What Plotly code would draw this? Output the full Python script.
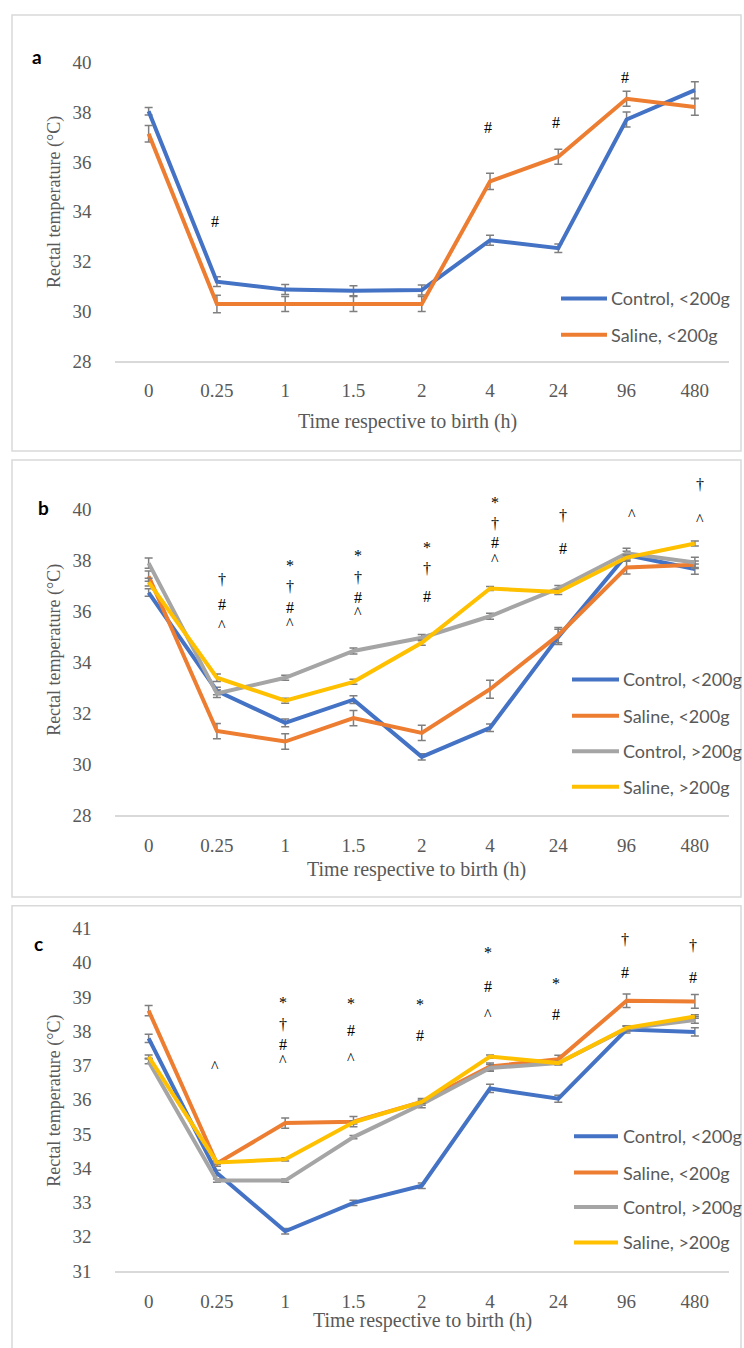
import plotly.graph_objects as go

W, H = 744, 1348

times = ["0", "0.25", "1", "1.5", "2", "4", "24", "96", "480"]

# ---- Panel a ----
a_ctrl_lt = [38.03, 31.2, 30.88, 30.83, 30.86, 32.86, 32.54, 37.7, 38.88]
a_ctrl_lt_err = [0.15, 0.2, 0.2, 0.2, 0.2, 0.2, 0.17, 0.3, 0.33]
a_sal_lt = [37.13, 30.3, 30.3, 30.3, 30.3, 35.22, 36.21, 38.53, 38.2]
a_sal_lt_err = [0.33, 0.35, 0.3, 0.3, 0.3, 0.33, 0.3, 0.3, 0.33]

# ---- Panel b ----
b_ctrl_lt = [36.73, 32.87, 31.62, 32.53, 30.29, 31.43, 34.99, 38.2, 37.65]
b_ctrl_lt_err = [0.15, 0.15, 0.15, 0.15, 0.12, 0.15, 0.3, 0.15, 0.2]
b_sal_lt = [37.37, 31.3, 30.89, 31.81, 31.23, 32.94, 35.06, 37.71, 37.82]
b_sal_lt_err = [0.2, 0.3, 0.3, 0.3, 0.3, 0.35, 0.3, 0.25, 0.15]
b_ctrl_gt = [37.88, 32.77, 33.39, 34.44, 34.96, 35.8, 36.89, 38.27, 37.91]
b_ctrl_gt_err = [0.2, 0.15, 0.1, 0.12, 0.12, 0.12, 0.12, 0.2, 0.2]
b_sal_gt = [37.14, 33.39, 32.49, 33.23, 34.76, 36.89, 36.75, 38.1, 38.65]
b_sal_gt_err = [0.15, 0.15, 0.1, 0.1, 0.1, 0.08, 0.1, 0.1, 0.1]

# ---- Panel c ----
c_ctrl_lt = [37.79, 33.86, 32.16, 32.99, 33.49, 36.33, 36.03, 38.05, 37.98]
c_ctrl_lt_err = [0.12, 0.08, 0.08, 0.08, 0.08, 0.12, 0.1, 0.1, 0.12]
c_sal_lt = [38.6, 34.14, 35.32, 35.36, 35.94, 36.97, 37.18, 38.89, 38.87]
c_sal_lt_err = [0.15, 0.08, 0.15, 0.15, 0.1, 0.1, 0.12, 0.2, 0.2]
c_ctrl_gt = [37.12, 33.64, 33.64, 34.91, 35.87, 36.93, 37.07, 38.08, 38.33]
c_ctrl_gt_err = [0.07, 0.05, 0.05, 0.05, 0.1, 0.1, 0.05, 0.07, 0.1]
c_sal_gt = [37.26, 34.17, 34.26, 35.34, 35.94, 37.26, 37.07, 38.1, 38.43]
c_sal_gt_err = [0.05, 0.05, 0.05, 0.05, 0.05, 0.05, 0.05, 0.05, 0.05]

series_names = ["Control, <200g", "Saline, <200g", "Control, >200g", "Saline, >200g"]
series_colors = ["#4472C4", "#ED7D31", "#A5A5A5", "#FFC000"]

# significance markers: (time, symbol, y value)
a_marks = [("0.25", "#", 33.6), ("4", "#", 37.4), ("24", "#", 37.6), ("96", "#", 39.4)]
b_marks = [
    ("0.25", "†", 37.26), ("0.25", "#", 36.26), ("0.25", "^", 35.45),
    ("1", "*", 37.8), ("1", "†", 36.95), ("1", "#", 36.14), ("1", "^", 35.52),
    ("1.5", "*", 38.19), ("1.5", "†", 37.3), ("1.5", "#", 36.53), ("1.5", "^", 35.95),
    ("2", "*", 38.5), ("2", "†", 37.69), ("2", "#", 36.57),
    ("4", "*", 40.27), ("4", "†", 39.42), ("4", "#", 38.69), ("4", "^", 38.03),
    ("24", "†", 39.73), ("24", "#", 38.46),
    ("96", "^", 39.77),
    ("480", "†", 40.96), ("480", "^", 39.58),
]
c_marks = [
    ("0.25", "^", 36.97),
    ("1", "*", 38.84), ("1", "†", 38.19), ("1", "#", 37.6), ("1", "^", 37.14),
    ("1.5", "*", 38.81), ("1.5", "#", 38.03), ("1.5", "^", 37.2),
    ("2", "*", 38.79), ("2", "#", 37.88),
    ("4", "*", 40.31), ("4", "#", 39.32), ("4", "^", 38.49),
    ("24", "*", 39.39), ("24", "#", 38.48),
    ("96", "†", 40.68), ("96", "#", 39.71),
    ("480", "†", 40.5), ("480", "#", 39.56),
]

panels = [
    dict(label="a", series=[(a_ctrl_lt, a_ctrl_lt_err), (a_sal_lt, a_sal_lt_err)],
         yr=[28, 40], dtick=2, marks=a_marks, mshift=-2, standoff=11,
         plot_px=(53, 357), box_px=(5, 448), lab_px=(37, 47),
         ytitle_py=195, xtitle_px=(408, 418),
         leg_x=(561, 607, 609), leg_y=[293, 330]),
    dict(label="b", series=[(b_ctrl_lt, b_ctrl_lt_err), (b_sal_lt, b_sal_lt_err),
                            (b_ctrl_gt, b_ctrl_gt_err), (b_sal_gt, b_sal_gt_err)],
         yr=[28, 40], dtick=2, marks=b_marks, mshift=5, standoff=12,
         plot_px=(507, 818), box_px=(457, 901), lab_px=(43, 505),
         ytitle_py=650, xtitle_px=(417, 873),
         leg_x=(572, 619, 621), leg_y=[680, 717, 753, 789]),
    dict(label="c", series=[(c_ctrl_lt, c_ctrl_lt_err), (c_sal_lt, c_sal_lt_err),
                            (c_ctrl_gt, c_ctrl_gt_err), (c_sal_gt, c_sal_gt_err)],
         yr=[31, 41], dtick=1, marks=c_marks, mshift=-2, standoff=12,
         plot_px=(933, 1281), box_px=(910, 1370), lab_px=(38, 948),
         ytitle_py=1108, xtitle_px=(422, 1331),
         leg_x=(574, 618, 621), leg_y=[1144, 1181, 1216, 1252]),
]

def px(x):
    return x / W

def py(y):
    return 1 - y / H

SERIF = "Liberation Serif"
SANS = "Lato"
TXT = "#595959"

fig = go.Figure()
shapes = []
annotations = []
plot_left, plot_right = 114.5, 729

for i, p in enumerate(panels):
    n = "" if i == 0 else str(i + 1)
    xa, ya = "x" + n, "y" + n
    for k, (vals, errs) in enumerate(p["series"]):
        fig.add_trace(go.Scatter(
            x=times, y=vals, mode="lines", name=series_names[k],
            line=dict(color=series_colors[k], width=4),
            error_y=dict(type="data", array=errs, visible=True,
                         color="#7F7F7F", thickness=1.5, width=4),
            xaxis=xa, yaxis=ya, showlegend=False, hoverinfo="skip"))
    top, bot = p["plot_px"]
    fig.update_layout(**{
        "xaxis" + n: dict(domain=[px(plot_left), px(plot_right)], anchor=ya,
                          type="category", categoryorder="array", categoryarray=times,
                          range=[-0.5, len(times) - 0.5],
                          showline=True, linecolor="#D9D9D9", linewidth=1.5,
                          showgrid=False, zeroline=False, ticks="",
                          ticklabelstandoff=p["standoff"],
                          tickfont=dict(family=SERIF, size=19, color=TXT)),
        "yaxis" + n: dict(domain=[py(bot), py(top)], anchor=xa,
                          range=p["yr"], dtick=p["dtick"], tick0=p["yr"][0],
                          showline=False, showgrid=False, zeroline=False, ticks="",
                          ticklabelstandoff=22,
                          tickfont=dict(family=SERIF, size=19, color=TXT)),
    })
    # panel box
    b0, b1 = p["box_px"]
    shapes.append(dict(type="rect", xref="paper", yref="paper",
                       x0=px(12), x1=px(741), y0=py(b1), y1=py(b0),
                       line=dict(color="#D9D9D9", width=1.5), fillcolor="rgba(0,0,0,0)",
                       layer="below"))
    # panel label
    lx, ly = p["lab_px"]
    annotations.append(dict(text="<b>" + p["label"] + "</b>", xref="paper", yref="paper",
                            x=px(lx), y=py(ly), showarrow=False,
                            font=dict(family=SANS, size=19, color="black"),
                            xanchor="center", yanchor="middle"))
    # axis titles
    annotations.append(dict(text="Rectal temperature (°C)", xref="paper", yref="paper",
                            x=px(55), y=py(p["ytitle_py"]), textangle=-90, showarrow=False,
                            font=dict(family=SERIF, size=18, color=TXT),
                            xanchor="center", yanchor="middle"))
    tx, ty = p["xtitle_px"]
    annotations.append(dict(text="Time respective to birth (h)", xref="paper", yref="paper",
                            x=px(tx), y=py(ty), showarrow=False,
                            font=dict(family=SERIF, size=20, color=TXT),
                            xanchor="center", yanchor="middle"))
    # significance markers: x on the category axis, y as a fraction of the
    # axis domain (so markers above the top tick are not hidden)
    lo, hi = p["yr"]
    for (t, s, v) in p["marks"]:
        annotations.append(dict(text=s, xref=xa, yref=ya + " domain",
                                x=times.index(t), y=(v - lo) / (hi - lo),
                                showarrow=False, xshift=p["mshift"],
                                font=dict(family=SERIF, size=16, color="black"),
                                xanchor="center", yanchor="middle"))
    # legend (manual)
    l0, l1, lt = p["leg_x"]
    for k, ly_ in enumerate(p["leg_y"]):
        shapes.append(dict(type="line", xref="paper", yref="paper",
                           x0=px(l0), x1=px(l1), y0=py(ly_), y1=py(ly_),
                           line=dict(color=series_colors[k], width=4)))
        annotations.append(dict(text=series_names[k], xref="paper", yref="paper",
                                x=px(lt), y=py(ly_), showarrow=False,
                                font=dict(family=SANS, size=18, color=TXT),
                                xanchor="left", yanchor="middle"))

fig.update_layout(width=W, height=H, margin=dict(l=0, r=0, t=0, b=0),
                  paper_bgcolor="white", plot_bgcolor="white",
                  shapes=shapes, annotations=annotations, showlegend=False)

fig.write_html("out.html")
